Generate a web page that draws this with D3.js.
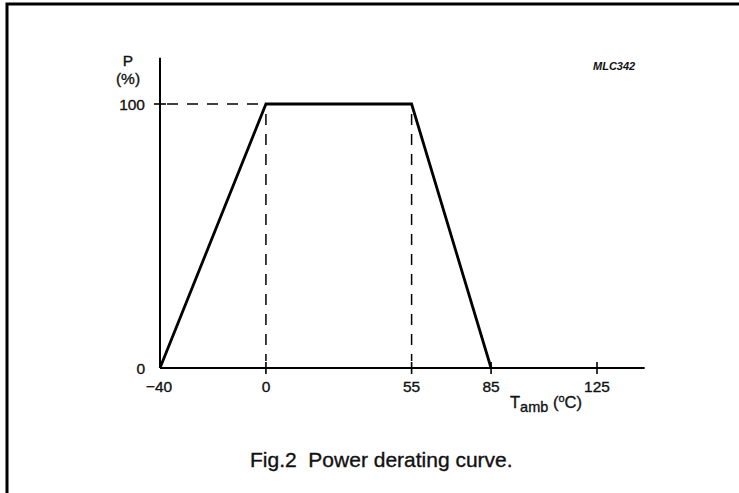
<!DOCTYPE html>
<html lang="en">
<head>
  <meta charset="UTF-8">
  <title>Power derating curve</title>
  <style>
    body { margin: 0; background: #fff; }
    svg { display: block; font-family: "Liberation Sans", Arial, sans-serif; }
    svg text { fill: #111; stroke: #111; stroke-width: 0.35px; }
  </style>
</head>
<body>
  <div id="chart"></div>
  <script src="https://d3js.org/d3.v7.min.js"></script>
  <script>
    // Curve data (ambient temperature in degC, power in %)
    const temps = [-40, 0, 55, 85];
    const power = [0, 100, 100, 0];
    const xTicks = [-40, 0, 55, 85, 125];
    const yTicks = [0, 100];

    const W = 739, H = 493;
    const x = d3.scaleLinear().domain([-40, 125]).range([160, 597]);
    const y = d3.scaleLinear().domain([0, 100]).range([368, 104]);
    const xEnd = 143, yTop = 117.5;

    const svg = d3.select("#chart").append("svg")
      .attr("width", W).attr("height", H);

    // frame (top + left edges)
    svg.append("path")
      .attr("d", `M7,${H} V4 H${W}`)
      .attr("fill", "none").attr("stroke", "#000").attr("stroke-width", 3);

    // axes
    svg.append("line")
      .attr("x1", x(-40)).attr("x2", x(xEnd)).attr("y1", y(0)).attr("y2", y(0))
      .attr("stroke", "#000").attr("stroke-width", 2);
    svg.append("line")
      .attr("x1", x(-40)).attr("x2", x(-40)).attr("y1", y(0)).attr("y2", y(yTop))
      .attr("stroke", "#000").attr("stroke-width", 2);

    // ticks crossing the axes
    svg.selectAll(".xt").data(xTicks.slice(1)).enter().append("line")
      .attr("x1", d => x(d)).attr("x2", d => x(d))
      .attr("y1", y(0) - 6).attr("y2", y(0) + 6)
      .attr("stroke", "#000").attr("stroke-width", 1.6);
    svg.selectAll(".yt").data(yTicks.slice(1)).enter().append("line")
      .attr("x1", x(-40) - 6).attr("x2", x(-40) + 6)
      .attr("y1", d => y(d)).attr("y2", d => y(d))
      .attr("stroke", "#000").attr("stroke-width", 1.6);

    // tick labels
    svg.selectAll(".xl").data(xTicks).enter().append("text")
      .attr("x", d => x(d) - (d < 0 ? 1 : 0)).attr("y", y(0) + 24)
      .attr("text-anchor", "middle").attr("font-size", 15.5)
      .text(d => d < 0 ? "\u2212" + Math.abs(d) : d);
    svg.selectAll(".yl").data(yTicks).enter().append("text")
      .attr("x", x(-40) - 15).attr("y", d => y(d) + 6)
      .attr("text-anchor", "end").attr("font-size", 15.5)
      .text(d => d);

    // dashed guide lines
    const dash = "11,9";
    svg.append("line")
      .attr("x1", x(-40) + 7).attr("x2", x(temps[1])).attr("y1", y(100)).attr("y2", y(100))
      .attr("stroke", "#000").attr("stroke-width", 1.5).attr("stroke-dasharray", dash);
    svg.selectAll(".vg").data([temps[1], temps[2]]).enter().append("line")
      .attr("x1", d => x(d)).attr("x2", d => x(d))
      .attr("y1", y(100) + 10).attr("y2", y(0) - 7)
      .attr("stroke", "#000").attr("stroke-width", 1.5).attr("stroke-dasharray", dash);

    // curve
    const pts = temps.map((t, i) => [t, power[i]]);
    svg.append("path")
      .datum(pts)
      .attr("d", d3.line().x(d => x(d[0])).y(d => y(d[1])))
      .attr("fill", "none").attr("stroke", "#000")
      .attr("stroke-width", 2.8).attr("stroke-linejoin", "miter");

    // axis titles
    svg.append("text").attr("x", 128).attr("y", 66)
      .attr("text-anchor", "middle").attr("font-size", 15.5).text("P");
    svg.append("text").attr("x", 128).attr("y", 84)
      .attr("text-anchor", "middle").attr("font-size", 15.5).text("(%)");

    const tl = svg.append("text").attr("x", 510).attr("y", 408).attr("font-size", 16.5);
    tl.append("tspan").text("T");
    tl.append("tspan").attr("dy", 4).attr("font-size", 14.5).text("amb");
    tl.append("tspan").attr("dy", -4).text(" (");
    tl.append("tspan").attr("dy", -6).attr("font-size", 11).text("o");
    tl.append("tspan").attr("dy", 6).text("C)");

    svg.append("text").attr("x", 593).attr("y", 70)
      .attr("font-size", 11).attr("font-style", "italic").attr("font-weight", "bold")
      .style("stroke-width", 0)
      .text("MLC342");

    svg.append("text").attr("x", 250).attr("y", 467)
      .attr("font-size", 21).attr("xml:space", "preserve")
      .text("Fig.2  Power derating curve.");
  </script>
</body>
</html>
